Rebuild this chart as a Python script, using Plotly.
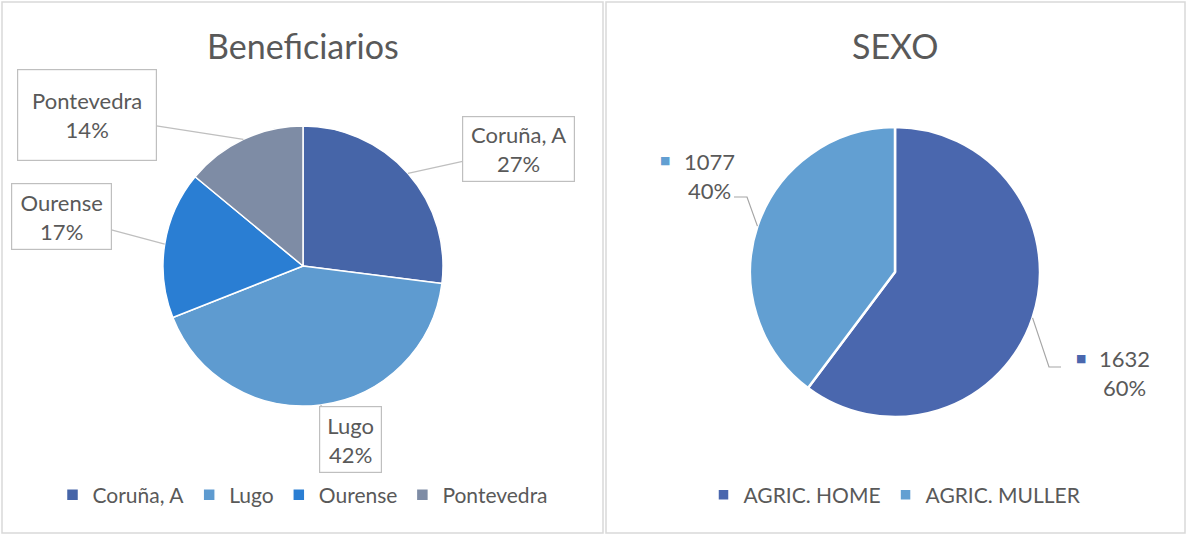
import numpy as np
import plotly.graph_objects as go

# ---------------- data ----------------
region_labels = ["Coruña, A", "Lugo", "Ourense", "Pontevedra"]
region_values = [27, 42, 17, 14]
region_colors = ["#4665A8", "#5E9BD0", "#2A7ED3", "#7E8CA5"]

sexo_labels = ["AGRIC. HOME", "AGRIC. MULLER"]
sexo_values = [1632, 1077]
sexo_colors = ["#4A67AE", "#629FD2"]

titles = ["Beneficiarios", "SEXO"]

# ---------------- layout helpers ----------------
W, H = 1187, 536
FONT = "Lato"
TXT = "#595959"
GRID = "#BFBFBF"


def px(x):
    return x / W


def py(y):
    return 1 - y / H


def mid_angles(values):
    v = np.asarray(values, dtype=float)
    cum = np.cumsum(v)
    return (cum - v / 2) / v.sum() * 2 * np.pi


def pct(values):
    v = np.asarray(values, dtype=float)
    return [f"{int(round(x))}%" for x in v / v.sum() * 100]


# pie geometry (pixels)
L_cx, L_cy, L_r = 303, 266, 140
R_cx, R_cy, R_r = 895, 272, 145

fig = go.Figure()

fig.add_trace(go.Pie(
    labels=region_labels, values=region_values, sort=False,
    direction="clockwise", rotation=0, textinfo="none",
    marker=dict(colors=region_colors, line=dict(color="white", width=1.5)),
    domain=dict(x=[px(L_cx - L_r), px(L_cx + L_r)], y=[py(L_cy + L_r), py(L_cy - L_r)]),
    legend="legend", hoverinfo="label+percent",
))

fig.add_trace(go.Pie(
    labels=sexo_labels, values=sexo_values, sort=False,
    direction="clockwise", rotation=0, textinfo="none",
    marker=dict(colors=sexo_colors, line=dict(color="white", width=2.5)),
    domain=dict(x=[px(R_cx - R_r), px(R_cx + R_r)], y=[py(R_cy + R_r), py(R_cy - R_r)]),
    legend="legend2", hoverinfo="label+value+percent",
))

annotations = []
shapes = []

# titles
for t, cx in zip(titles, [L_cx, R_cx]):
    annotations.append(dict(text=t, x=px(cx), y=py(45), xref="paper", yref="paper",
                            xanchor="center", yanchor="middle",
                            showarrow=False, font=dict(family=FONT, size=34, color=TXT)))

# left callout boxes: (center x, center y, width, height) in pixels
boxes = [(518.5, 149, 113, 66), (350.5, 439.5, 63, 67), (61.5, 216.5, 101, 67), (87, 115, 140, 92)]
for lab, p, ang, (bx, by, bw, bh) in zip(region_labels, pct(region_values), mid_angles(region_values), boxes):
    tx = L_cx + L_r * np.sin(ang)
    ty = L_cy - L_r * np.cos(ang)
    annotations.append(dict(
        text=f"{lab}<br>{p}", x=px(tx), y=py(ty), xref="paper", yref="paper",
        ax=bx - tx, ay=by - ty, axref="pixel", ayref="pixel",
        showarrow=True, arrowhead=0, arrowwidth=1.2, arrowcolor=GRID,
        bordercolor=GRID, borderwidth=1.2, borderpad=0, bgcolor="white",
        width=bw - 2, height=bh - 2, align="center", valign="middle",
        font=dict(family=FONT, size=22, color=TXT)))

# right labels with leader lines
label_pos = [(1124, 373), (709, 176)]      # text block centres
square_pos = [(1081, 358), (665, 160)]
elbow = [((1049, 367), (1061, 367)), ((747, 197), (734, 197))]
for v, p, c, ang, (lx, ly), (sx, sy), (e1, e2) in zip(
        sexo_values, pct(sexo_values), sexo_colors, mid_angles(sexo_values),
        label_pos, square_pos, elbow):
    tx = R_cx + R_r * np.sin(ang)
    ty = R_cy - R_r * np.cos(ang)
    annotations.append(dict(text=f"{v}<br>{p}", x=px(lx), y=py(ly), xref="paper", yref="paper",
                            xanchor="center", yanchor="middle",
                            showarrow=False, align="center",
                            font=dict(family=FONT, size=22, color=TXT)))
    annotations.append(dict(text="■", x=px(sx), y=py(sy), xref="paper", yref="paper",
                            xanchor="center", yanchor="middle",
                            showarrow=False, font=dict(family="DejaVu Sans", size=11, color=c)))
    path = f"M {px(tx)},{py(ty)} L {px(e1[0])},{py(e1[1])} L {px(e2[0])},{py(e2[1])}"
    shapes.append(dict(type="path", path=path, xref="paper", yref="paper",
                       line=dict(color="#A6A6A6", width=1.2)))

# panel borders
for x0, x1 in [(2, 603), (606, 1185)]:
    shapes.append(dict(type="rect", xref="paper", yref="paper",
                       x0=px(x0), x1=px(x1), y0=py(533), y1=py(2),
                       line=dict(color="#D9D9D9", width=1.5), fillcolor="rgba(0,0,0,0)"))

legend_common = dict(orientation="h", xanchor="center", yanchor="middle",
                     font=dict(family=FONT, size=21, color=TXT), bgcolor="rgba(0,0,0,0)",
                     itemclick=False, itemdoubleclick=False)

fig.update_layout(
    width=W, height=H, margin=dict(l=0, r=0, t=0, b=0),
    paper_bgcolor="white", plot_bgcolor="white",
    font=dict(family=FONT, color=TXT),
    annotations=annotations, shapes=shapes,
    legend=dict(x=px(L_cx), y=py(495), **legend_common),
    legend2=dict(x=px(R_cx), y=py(495), **legend_common),
)

fig.write_html("out.html", config={"displayModeBar": False},
               post_script="document.body.style.margin='0';")
